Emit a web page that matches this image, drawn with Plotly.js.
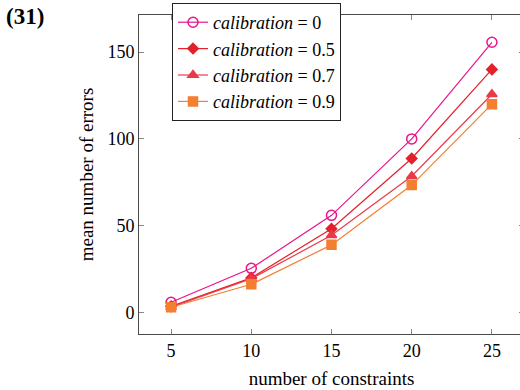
<!DOCTYPE html>
<html>
<head>
<meta charset="utf-8">
<script src="https://cdn.plot.ly/plotly-3.0.1.min.js"></script>
<style>
html,body{margin:0;padding:0;overflow:hidden;background:#fff;width:520px;height:390px;}
#chart{width:524px;height:390px;}
</style>
</head>
<body>
<div id="chart"></div>
<script>
const constraints = [5, 10, 15, 20, 25];
const calib0 = [6, 25.5, 56, 100, 155.6];
const calib05 = [3.6, 20, 48.3, 88.7, 140];
const calib07 = [3.2, 19.5, 44.5, 78.5, 125.7];
const calib09 = [3.1, 16.3, 39, 73.4, 120];
const seriesNames = ['0', '0.5', '0.7', '0.9'];
const seriesValues = [calib0, calib05, calib07, calib09];
const colors = ['#ec138c', '#e4202a', '#ea3a4a', '#f47f30'];
const symbols = ['circle-open', 'diamond', 'triangle-up', 'square'];
const sizes = [10, 8, 9, 9];
const panelLabel = '(31)';
const FONT = 'Liberation Serif';
const traces = seriesValues.map((vals, i) => ({
  x: constraints, y: vals, type: 'scatter', mode: 'lines+markers',
  name: '<i>calibration</i> = ' + seriesNames[i],
  line: {color: colors[i], width: 1.2},
  marker: {symbol: symbols[i], size: sizes[i], color: colors[i], line: {color: colors[i], width: 1.5}}
}));
const layout = {
  width: 524, height: 390, margin: {l: 139, r: 0, t: 15, b: 56},
  font: {family: FONT, size: 18, color: '#000'},
  legend: {x: 0.0857, y: 1.0376, xanchor: 'left', yanchor: 'top', bgcolor: '#fff', bordercolor: '#222', borderwidth: 1, font: {family: FONT, size: 18}},
  xaxis: {range: [3, 27], tickvals: constraints, showgrid: false, zeroline: false, showline: true, linecolor: '#4a4a4a', mirror: 'ticks', ticks: 'inside', ticklen: 5, tickcolor: '#888', tickfont: {family: FONT, size: 18},
    title: {text: 'number of constraints', font: {family: FONT, size: 19}, standoff: 12}},
  yaxis: {range: [-12.3, 171.3], tickvals: [0, 50, 100, 150], showgrid: false, zeroline: false, showline: true, linecolor: '#4a4a4a', mirror: 'ticks', ticks: 'inside', ticklen: 5, tickcolor: '#888', tickfont: {family: FONT, size: 18},
    title: {text: 'mean number of errors', font: {family: FONT, size: 19}, standoff: 8}}
};
Plotly.newPlot('chart', traces, layout, {displayModeBar: false, staticPlot: true}).then(gd => {
  const d = document.createElement('div');
  d.style.cssText = "position:absolute;left:6px;top:3px;font-family:'Liberation Serif';font-weight:bold;font-size:23px;line-height:28px;color:#000;";
  d.textContent = panelLabel;
  document.body.appendChild(d);
});
</script>
</body>
</html>
